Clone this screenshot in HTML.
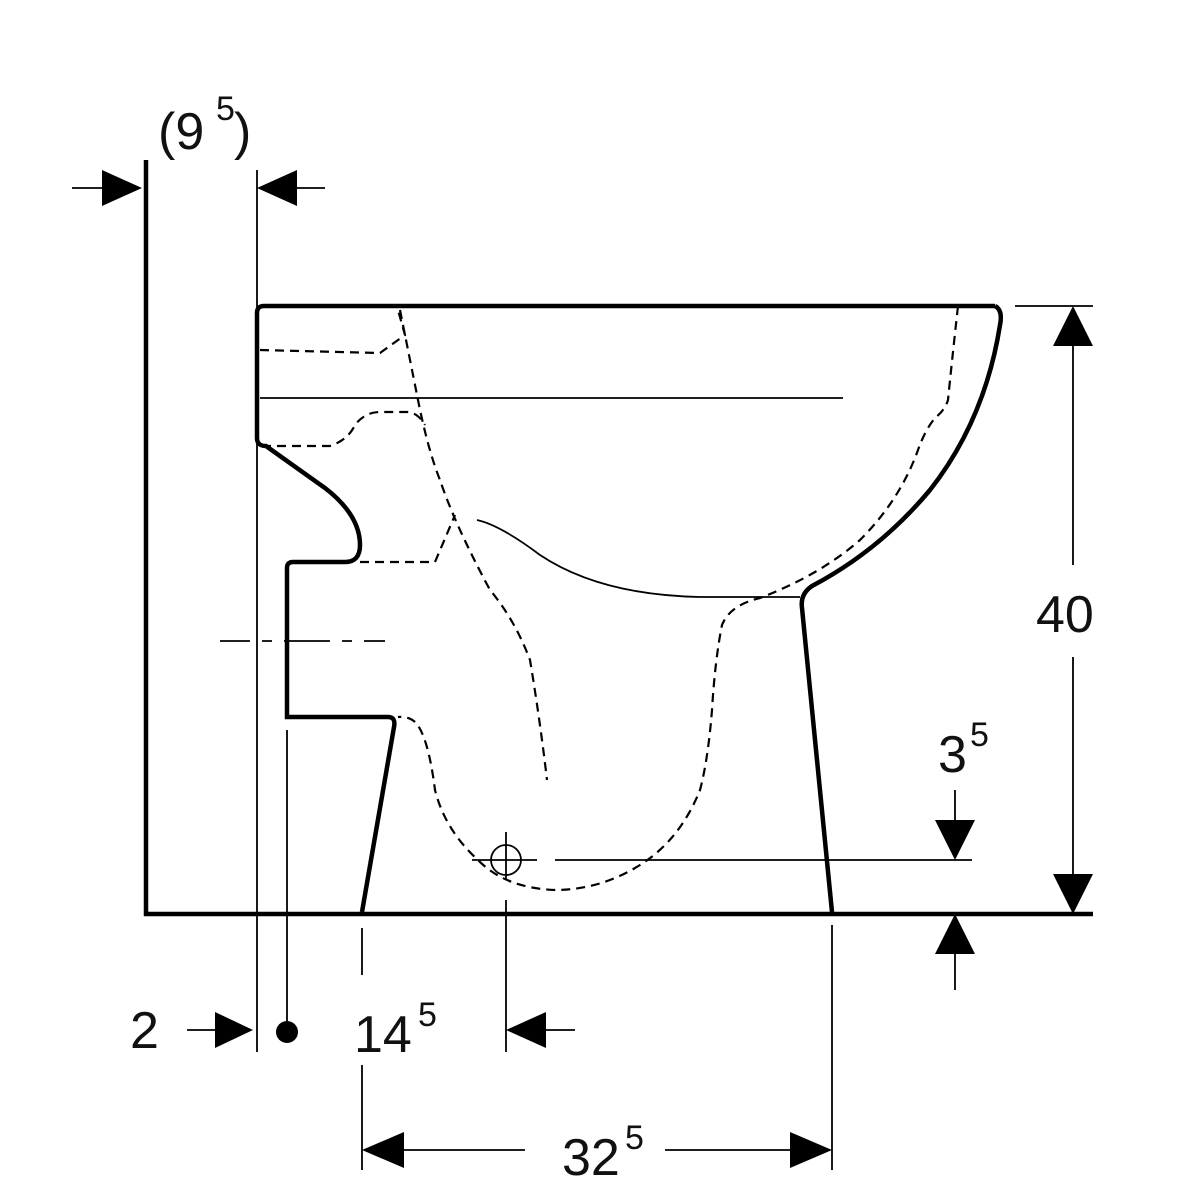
<!DOCTYPE html>
<html><head><style>body{margin:0;background:#fff}svg{display:block}text{font-family:"Liberation Sans",sans-serif;fill:#111}</style></head><body>
<svg width="1200" height="1200" viewBox="0 0 1200 1200" xmlns="http://www.w3.org/2000/svg">
<g stroke="#000" fill="none">
<path d="M146 160 V914 H1093" stroke-width="4.5"/>
<path d="M995 306 H264 Q257 306 257 313 V438 Q257 446 266 446 L325 488 Q360 515 360 545 Q360 562 345 562 H293 Q287 562 287 568 V717 H388 Q396 717 394 727 L362 912" stroke-width="4.5"/>
<path d="M995 306 Q1003 310 1000 325 Q985 420 930 490 Q880 550 812 586 Q800 594 802 608 L832 912" stroke-width="4.5"/>
<g stroke-width="1.8">
<path d="M260 398 H843"/>
<path d="M477 520 Q500 525 540 555 Q600 595 700 597 H800"/>
<path d="M257 170 V1052"/>
<path d="M287 730 V1030"/>
<path d="M362 928 V975 M362 1065 V1170"/>
<path d="M506 900 V1052"/>
<path d="M832 925 V1170"/>
<path d="M555 860 H972"/>
<path d="M472 860 H537 M506 832 V880"/>
<circle cx="506" cy="860" r="15"/>
<path d="M220 641 H250 M262 641 H272 M284 641 H330 M342 641 H352 M364 641 H385"/>
<path d="M72 188 H110 M325 188 H290 M187 1030 H220 M575 1030 H540"/>
<path d="M1073 340 V565 M1073 657 V880 M1015 306 H1093"/>
<path d="M955 790 V825 M955 950 V990"/>
<path d="M395 1150 H525 M665 1150 H800"/>
</g>
<g stroke-width="2.2" stroke-dasharray="9,6">
<path d="M260 350 L380 353 L405 335 L398 310"/>
<path d="M400 310 Q410 360 418 400 Q428 450 440 480 Q455 525 490 590 Q515 620 530 660 Q540 720 547 780"/>
<path d="M262 446 H330 Q348 440 355 425 Q365 412 380 412 H408 Q418 413 425 425"/>
<path d="M360 562 H435 L455 515"/>
<path d="M958 306 Q952 360 948 400 Q945 410 935 418 Q925 430 918 450 Q900 500 860 540 Q820 575 760 598 Q730 605 722 625 Q715 660 712 710 Q708 760 700 790 Q680 840 640 865 Q600 890 555 890 Q505 888 478 860 Q445 830 435 790 Q428 735 415 722 Q408 716 398 717"/>
</g>
</g>
<g fill="#000">
<polygon points="142,188 102,170 102,206"/>
<polygon points="257,188 297,170 297,206"/>
<polygon points="1073,306 1053,346 1093,346"/>
<polygon points="1073,914 1053,874 1093,874"/>
<polygon points="955,860 935,820 975,820"/>
<polygon points="955,914 935,954 975,954"/>
<polygon points="253,1030 215,1012 215,1048"/>
<polygon points="506,1030 546,1012 546,1048"/>
<polygon points="362,1150 404,1132 404,1168"/>
<polygon points="832,1150 790,1132 790,1168"/>
<circle cx="287" cy="1032" r="11"/>
</g>
<text x="158" y="149" font-size="52">(9</text>
<text x="216" y="120" font-size="34">5</text>
<text x="234" y="149" font-size="52">)</text>
<text x="1036" y="632" font-size="52">40</text>
<text x="938" y="772" font-size="52">3</text>
<text x="970" y="746" font-size="34">5</text>
<text x="130" y="1048" font-size="52">2</text>
<text x="354" y="1052" font-size="52">14</text>
<text x="418" y="1026" font-size="34">5</text>
<text x="562" y="1175" font-size="52">32</text>
<text x="625" y="1149" font-size="34">5</text>
</svg>
</body></html>
